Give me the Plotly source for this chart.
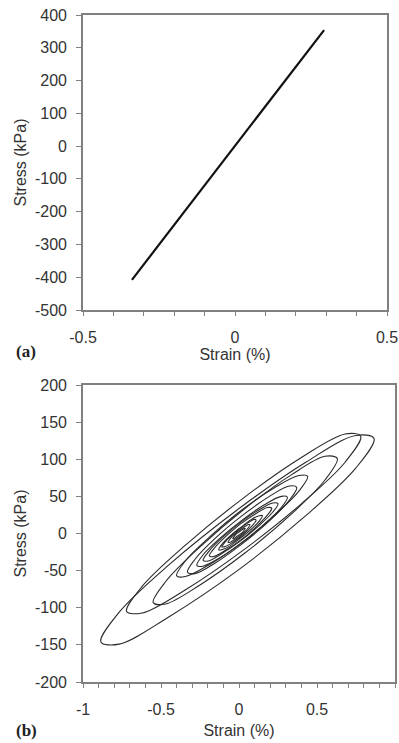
import plotly.graph_objects as go

# ---- Panel (a): near-linear stress-strain record ----
strain_a = [-0.339, -0.2, 0.0, 0.15, 0.293]
stress_a = [-408, -240, 0, 181, 354]

# ---- Panel (b): hysteresis loops (points read around each loop) ----
loop1_x = [0.865, 0.748, 0.428, -0.01, -0.448, -0.768, -0.885, -0.768, -0.448, -0.01, 0.428, 0.748, 0.865]
loop1_y = [128, 88, 24, -50, -112, -149, -146, -106, -42, 32, 96, 132, 128]
loop2_x = [0.78, 0.68, 0.405, 0.03, -0.345, -0.62, -0.72, -0.62, -0.345, 0.03, 0.405, 0.68, 0.78]
loop2_y = [131, 96, 41, -22, -76, -107, -105, -71, -16, 48, 103, 134, 131]
loop3_x = [0.63, 0.551, 0.335, 0.04, -0.255, -0.471, -0.55, -0.471, -0.255, 0.04, 0.335, 0.551, 0.63]
loop3_y = [101, 72, 26, -26, -70, -95, -93, -65, -19, 34, 79, 104, 101]
loop4_x = [0.44, 0.384, 0.23, 0.02, -0.19, -0.344, -0.40, -0.344, -0.19, 0.02, 0.23, 0.384, 0.44]
loop4_y = [77, 57, 25, -12, -42, -58, -57, -37, -5, 32, 62, 78, 77]
loop5_x = [0.37, 0.323, 0.195, 0.02, -0.155, -0.283, -0.33, -0.283, -0.155, 0.02, 0.195, 0.323, 0.37]
loop5_y = [62, 45, 17, -14, -40, -54, -52, -35, -7, 24, 50, 64, 62]
loop6_x = [0.31, 0.271, 0.165, 0.02, -0.125, -0.231, -0.27, -0.231, -0.125, 0.02, 0.165, 0.271, 0.31]
loop6_y = [49, 35, 13, -12, -33, -44, -43, -29, -7, 18, 39, 50, 49]
loop7_x = [0.25, 0.217, 0.13, 0.01, -0.11, -0.197, -0.23, -0.197, -0.11, 0.01, 0.13, 0.217, 0.25]
loop7_y = [40, 29, 11, -10, -27, -37, -36, -25, -6, 15, 32, 41, 40]
loop8_x = [0.21, 0.183, 0.11, 0.01, -0.09, -0.163, -0.19, -0.163, -0.09, 0.01, 0.11, 0.183, 0.21]
loop8_y = [34, 25, 9, -9, -23, -31, -30, -21, -5, 13, 27, 35, 34]
loop9_x = [0.15, 0.131, 0.08, 0.01, -0.06, -0.111, -0.13, -0.111, -0.06, 0.01, 0.08, 0.131, 0.15]
loop9_y = [24, 17, 6, -6, -17, -22, -22, -15, -4, 8, 19, 24, 24]
loop10_x = [0.11, 0.095, 0.055, 0.0, -0.055, -0.095, -0.11, -0.095, -0.055, 0.0, 0.055, 0.095, 0.11]
loop10_y = [18, 13, 4, -6, -14, -18, -18, -13, -4, 6, 14, 19, 18]
loop11_x = [0.07, 0.061, 0.035, 0.0, -0.035, -0.061, -0.07, -0.061, -0.035, 0.0, 0.035, 0.061, 0.07]
loop11_y = [12, 8, 2, -4, -9, -12, -12, -8, -2, 4, 9, 12, 12]
loop12_x = [0.04, 0.035, 0.02, 0.0, -0.02, -0.035, -0.04, -0.035, -0.02, 0.0, 0.02, 0.035, 0.04]
loop12_y = [7, 5, 1, -2, -5, -7, -7, -5, -1, 2, 5, 7, 7]

loops_x = [loop1_x, loop2_x, loop3_x, loop4_x, loop5_x, loop6_x,
           loop7_x, loop8_x, loop9_x, loop10_x, loop11_x, loop12_x]
loops_y = [loop1_y, loop2_y, loop3_y, loop4_y, loop5_y, loop6_y,
           loop7_y, loop8_y, loop9_y, loop10_y, loop11_y, loop12_y]

# ---- tick values / labels ----
xa_ticks = [-0.5, 0, 0.5]
xa_labels = ["-0.5", "0", "0.5"]
ya_ticks = [-500, -400, -300, -200, -100, 0, 100, 200, 300, 400]
ya_labels = ["-500", "-400", "-300", "-200", "-100", "0", "100", "200", "300", "400"]
xb_ticks = [-1, -0.5, 0, 0.5, 1]
xb_labels = ["-1", "-0.5", "0", "0.5", "1"]
yb_ticks = [-200, -150, -100, -50, 0, 50, 100, 150, 200]
yb_labels = ["-200", "-150", "-100", "-50", "0", "50", "100", "150", "200"]

W, H = 399, 743
FONT = "Liberation Sans, Arial, sans-serif"
TXT = "#333333"
AX = "#808080"

fig = go.Figure()
fig.add_trace(go.Scatter(x=strain_a, y=stress_a, mode="lines",
                         line=dict(color="#111111", width=2.2),
                         xaxis="x", yaxis="y", showlegend=False, hoverinfo="skip"))
for lx, ly in zip(loops_x, loops_y):
    fig.add_trace(go.Scatter(x=lx, y=ly, mode="lines",
                             line=dict(color="#2a2a2a", width=1.1, shape="spline", smoothing=1.0),
                             xaxis="x2", yaxis="y2", showlegend=False, hoverinfo="skip"))

def px_x(p):
    return p / W

def px_y(p):
    return 1 - p / H

common = dict(showgrid=False, zeroline=False, showline=True, linecolor=AX, linewidth=1.6,
              mirror=True, ticks="outside", tickcolor=AX, tickwidth=1.2, automargin=False,
              tickfont=dict(family=FONT, size=16, color=TXT))
title_font = dict(family=FONT, size=16, color=TXT)

fig.update_layout(
    width=W, height=H, margin=dict(l=0, r=0, t=0, b=0),
    paper_bgcolor="white", plot_bgcolor="white", showlegend=False,
    xaxis=dict(domain=[px_x(83), px_x(387)], range=[-0.5, 0.5], tickmode="array",
               tickvals=xa_ticks, ticktext=xa_labels, ticklen=4, ticklabelstandoff=8, anchor="y",
               minor=dict(dtick=0.1, ticks="outside", ticklen=4, tickcolor=AX, tickwidth=1.2),
               title=dict(text="Strain (%)", font=title_font, standoff=4),
               **common),
    yaxis=dict(domain=[px_y(310), px_y(15)], range=[-500, 400], tickmode="array",
               tickvals=ya_ticks, ticktext=ya_labels, ticklen=5, ticklabelstandoff=6, anchor="x",
               title=dict(text="Stress (kPa)", font=title_font, standoff=4),
               **common),
    xaxis2=dict(domain=[px_x(83), px_x(395)], range=[-1, 1], tickmode="array",
                tickvals=xb_ticks, ticktext=xb_labels, ticklen=4, ticklabelstandoff=8, anchor="y2",
                minor=dict(dtick=0.1, ticks="outside", ticklen=4, tickcolor=AX, tickwidth=1.2),
                title=dict(text="Strain (%)", font=title_font, standoff=8),
                **common),
    yaxis2=dict(domain=[px_y(682), px_y(385)], range=[-200, 200], tickmode="array",
                tickvals=yb_ticks, ticktext=yb_labels, ticklen=5, ticklabelstandoff=6, anchor="x2",
                title=dict(text="Stress (kPa)", font=title_font, standoff=4),
                **common),
)

for label, ypx in [("<b>(a)</b>", 352), ("<b>(b)</b>", 730)]:
    fig.add_annotation(text=label, xref="paper", yref="paper", x=px_x(14), y=px_y(ypx),
                       xanchor="left", yanchor="middle", showarrow=False,
                       font=dict(family="Liberation Serif, Times New Roman, serif", size=17, color="#222222"))

fig.write_html("out.html")
